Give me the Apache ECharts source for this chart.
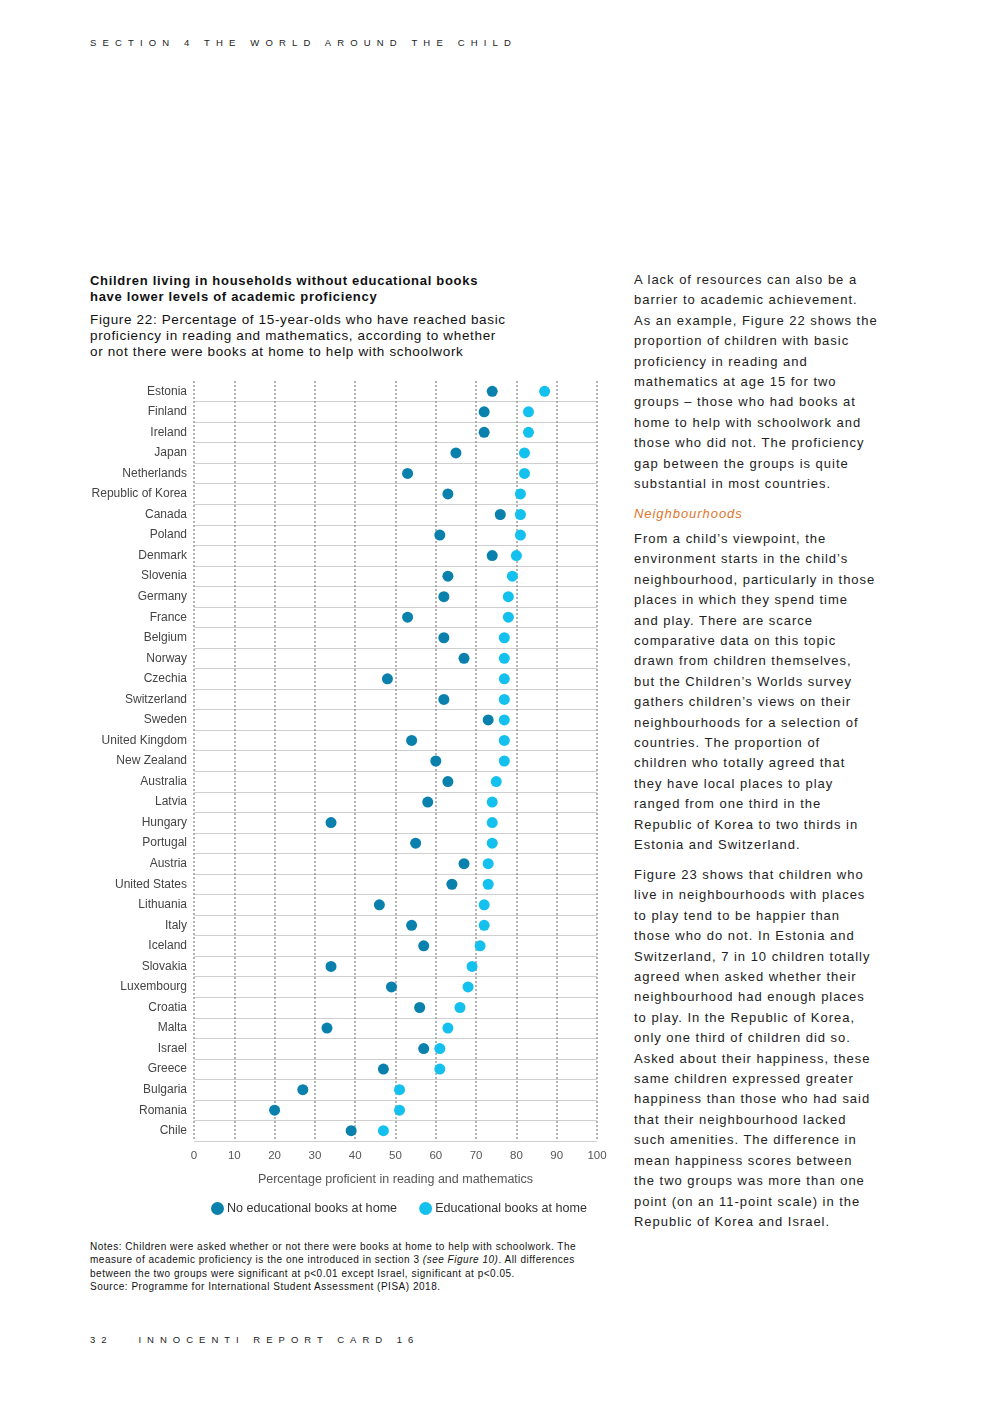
<!DOCTYPE html>
<html>
<head>
<meta charset="utf-8">
<script src="https://cdn.jsdelivr.net/npm/echarts@6/dist/echarts.min.js"></script>
<style>
  html, body { margin: 0; padding: 0; background: #fff; }
  body { width: 992px; height: 1403px; position: relative; font-family: "Liberation Sans", Arial, sans-serif; color: #222; overflow: hidden; }
  .abs { position: absolute; white-space: nowrap; }
  .header { left: 90px; top: 37px; font-size: 9.5px; letter-spacing: 6.15px; color: #222; }
  .footer { left: 90px; top: 1334px; font-size: 9.5px; letter-spacing: 6.0px; color: #222; }
  .title { left: 90px; top: 273px; font-size: 13px; font-weight: bold; line-height: 16px; letter-spacing: 0.7px; color: #111; }
  .subtitle { left: 90px; top: 312px; font-size: 13.5px; line-height: 16px; letter-spacing: 0.65px; color: #111; }
  .notes { left: 90px; top: 1240px; font-size: 10px; line-height: 13.3px; color: #111; letter-spacing: 0.52px; }
  .body { left: 634px; font-size: 13px; line-height: 20.4px; letter-spacing: 0.98px; color: #222; }
  .sub { left: 634px; top: 506px; font-size: 13px; font-style: italic; color: #e0762d; letter-spacing: 0.95px; }
  #chart { position: absolute; left: 0; top: 370px; width: 620px; height: 860px; }
</style>
</head>
<body>
<div class="abs header">SECTION 4 THE WORLD AROUND THE CHILD</div>

<div class="abs title">Children living in households without educational books<br>have lower levels of academic proficiency</div>
<div class="abs subtitle">Figure 22: Percentage of 15-year-olds who have reached basic<br>proficiency in reading and mathematics, according to whether<br>or not there were books at home to help with schoolwork</div>

<div id="chart"></div>

<div class="abs notes">Notes: Children were asked whether or not there were books at home to help with schoolwork. The<br>measure of academic proficiency is the one introduced in section 3 <i>(see Figure 10)</i>. All differences<br>between the two groups were significant at p&lt;0.01 except Israel, significant at p&lt;0.05.<br>Source: Programme for International Student Assessment (PISA) 2018.</div>

<div class="abs body" style="top:270px">A lack of resources can also be a<br>barrier to academic achievement.<br>As an example, Figure 22 shows the<br>proportion of children with basic<br>proficiency in reading and<br>mathematics at age 15 for two<br>groups – those who had books at<br>home to help with schoolwork and<br>those who did not. The proficiency<br>gap between the groups is quite<br>substantial in most countries.</div>
<div class="abs sub">Neighbourhoods</div>
<div class="abs body" style="top:529px">From a child’s viewpoint, the<br>environment starts in the child’s<br>neighbourhood, particularly in those<br>places in which they spend time<br>and play. There are scarce<br>comparative data on this topic<br>drawn from children themselves,<br>but the Children’s Worlds survey<br>gathers children’s views on their<br>neighbourhoods for a selection of<br>countries. The proportion of<br>children who totally agreed that<br>they have local places to play<br>ranged from one third in the<br>Republic of Korea to two thirds in<br>Estonia and Switzerland.</div>
<div class="abs body" style="top:865px">Figure 23 shows that children who<br>live in neighbourhoods with places<br>to play tend to be happier than<br>those who do not. In Estonia and<br>Switzerland, 7 in 10 children totally<br>agreed when asked whether their<br>neighbourhood had enough places<br>to play. In the Republic of Korea,<br>only one third of children did so.<br>Asked about their happiness, these<br>same children expressed greater<br>happiness than those who had said<br>that their neighbourhood lacked<br>such amenities. The difference in<br>mean happiness scores between<br>the two groups was more than one<br>point (on an 11-point scale) in the<br>Republic of Korea and Israel.</div>

<div class="abs footer">32&nbsp;&nbsp;&nbsp;INNOCENTI REPORT CARD 16</div>

<script>
const countries = ["Estonia","Finland","Ireland","Japan","Netherlands","Republic of Korea","Canada","Poland","Denmark","Slovenia","Germany","France","Belgium","Norway","Czechia","Switzerland","Sweden","United Kingdom","New Zealand","Australia","Latvia","Hungary","Portugal","Austria","United States","Lithuania","Italy","Iceland","Slovakia","Luxembourg","Croatia","Malta","Israel","Greece","Bulgaria","Romania","Chile"];
const noBooks = [74,72,72,65,53,63,76,61,74,63,62,53,62,67,48,62,73,54,60,63,58,34,55,67,64,46,54,57,34,49,56,33,57,47,27,20,39];
const withBooks = [87,83,83,82,82,81,81,81,80,79,78,78,77,77,77,77,77,77,77,75,74,74,74,73,73,72,72,71,69,68,66,63,61,61,51,51,47];
const xTicks = [0,10,20,30,40,50,60,70,80,90,100];
const seriesNames = ["No educational books at home","Educational books at home"];
const colors = ["#0a80ad", "#14c0ee"];

const chart = echarts.init(document.getElementById('chart'), null, {renderer: 'canvas'});
chart.setOption({
  animation: false,
  textStyle: { fontFamily: "Liberation Sans, Arial, sans-serif" },
  grid: { left: 194, right: 23, top: 11, height: 760, containLabel: false },
  xAxis: {
    type: 'value', min: xTicks[0], max: xTicks[xTicks.length-1], interval: 10,
    axisLine: { show: false }, axisTick: { show: false },
    axisLabel: { color: '#555', fontSize: 11.5, margin: 9 },
    splitLine: { show: true, lineStyle: { color: '#9a9a9a', width: 1.5, type: [2, 2] } },
    name: 'Percentage proficient in reading and mathematics',
    nameLocation: 'middle', nameGap: 32,
    nameTextStyle: { color: '#555', fontSize: 12.5 }
  },
  yAxis: {
    type: 'category', data: countries, inverse: true,
    axisLine: { show: false }, axisTick: { show: false },
    axisLabel: { color: '#444', fontSize: 12, margin: 7 },
    splitLine: { show: true, interval: function (i) { return i !== 0; }, lineStyle: { color: '#cfcfcf', width: 1 } }
  },
  legend: {
    data: seriesNames, left: 206, top: 827, icon: 'circle', itemWidth: 13, itemHeight: 13, itemGap: 22,
    textStyle: { color: '#333', fontSize: 12.6, padding: [0,0,0,-2] }
  },
  series: [
    { name: seriesNames[0], type: 'scatter', data: noBooks, symbolSize: 11, itemStyle: { color: colors[0], opacity: 1 }, z: 3 },
    { name: seriesNames[1], type: 'scatter', data: withBooks, symbolSize: 11, itemStyle: { color: colors[1], opacity: 1 }, z: 2 }
  ]
});
</script>
</body>
</html>
